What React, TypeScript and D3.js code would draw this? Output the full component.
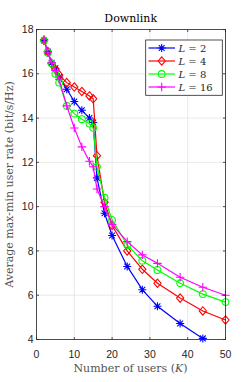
import React from "react";
import * as d3 from "d3";

const K = [2, 3, 4, 5, 6, 8, 10, 12, 14, 15, 16, 18, 20, 24, 28, 32, 38, 44, 50];
const L2 = [17.5, 17.0, 16.5, 16.25, 15.85, 15.3, 14.75, 14.35, 14.0, 13.8, 11.3, 9.7, 8.7, 7.3, 6.25, 5.5, 4.72, 4.05, null];
const L4 = [17.5, 17.0, 16.45, 16.2, 15.95, 15.6, 15.4, 15.2, 15.0, 14.87, 12.3, 10.2, 9.15, 8.0, 7.17, 6.54, 5.87, 5.29, 4.88];
const L8 = [17.5, 16.95, 16.45, 16.0, 15.6, 14.55, 14.2, 13.95, 13.75, 13.55, 11.8, 10.4, 9.4, 8.27, 7.56, 7.14, 6.54, 6.05, 5.69];
const L16 = [17.55, 16.95, 16.5, 16.15, 15.75, 14.55, 13.55, 12.7, 12.05, 11.8, 10.8, 10.0, 9.2, 8.42, 7.82, 7.44, 6.81, 6.36, 6.0];
const xTicks = [0, 10, 20, 30, 40, 50];
const yTicks = [4, 6, 8, 10, 12, 14, 16, 18];
const seriesNames = ["L = 2", "L = 4", "L = 8", "L = 16"];
const seriesNums = ["2", "4", "8", "16"];

const colors = ["#0000ff", "#ff0000", "#00ff00", "#ff00ff"];
const markers = ["star", "diamond", "circle", "plus"];

function markerPath(type: string, x: number, y: number): string {
  const s = 4;
  if (type === "star") {
    const a = s * 0.72;
    return `M${x - s},${y}L${x + s},${y}M${x},${y - s}L${x},${y + s}M${x - a},${y - a}L${x + a},${y + a}M${x - a},${y + a}L${x + a},${y - a}`;
  }
  if (type === "diamond") {
    return `M${x},${y - 4.2}L${x + 3.6},${y}L${x},${y + 4.2}L${x - 3.6},${y}Z`;
  }
  if (type === "plus") {
    return `M${x - 4.2},${y}L${x + 4.2},${y}M${x},${y - 4.2}L${x},${y + 4.2}`;
  }
  const r = 3.4;
  return `M${x - r},${y}A${r},${r} 0 1,0 ${x + r},${y}A${r},${r} 0 1,0 ${x - r},${y}Z`;
}

export default function App() {
  const W = 249, H = 382;
  const left = 36.5, right = 225.5, top = 29.5, bottom = 339.5;
  const x = d3.scaleLinear().domain([0, 50]).range([left, right]);
  const y = d3.scaleLinear().domain([4, 18]).range([bottom, top]);
  const data = [L2, L4, L8, L16];
  const line = d3
    .line<[number, number | null]>()
    .defined((d) => d[1] != null)
    .x((d) => x(d[0]))
    .y((d) => y(d[1] as number));
  const axisColor = "#262626";
  const serif = "'DejaVu Serif', serif";
  const sans = "'Liberation Sans', Arial, sans-serif";
  const lgX = 145.7, lgY = 40, lgW = 76.6, lgH = 55.3;
  const lgRows = [48, 61, 74, 87];

  return (
    <svg width={W} height={H} style={{ position: "absolute", left: 0, top: 0, background: "#fff" }}>
      <rect x={0} y={0} width={W} height={H} fill="#fff" />
      {/* grid */}
      {xTicks.map((t) => (
        <line key={"gx" + t} x1={x(t)} x2={x(t)} y1={top} y2={bottom} stroke="#e3e3e3" strokeWidth={0.8} />
      ))}
      {yTicks.map((t) => (
        <line key={"gy" + t} x1={left} x2={right} y1={y(t)} y2={y(t)} stroke="#e3e3e3" strokeWidth={0.8} />
      ))}
      {/* series */}
      {data.map((vals, i) => {
        const pts: [number, number | null][] = K.map((k, j) => [k, vals[j]]);
        return (
          <g key={"s" + i}>
            <path d={line(pts) || ""} fill="none" stroke={colors[i]} strokeWidth={1.2} />
            {pts
              .filter((p) => p[1] != null)
              .map((p, j) => (
                <path
                  key={j}
                  d={markerPath(markers[i], x(p[0]), y(p[1] as number))}
                  fill="none"
                  stroke={colors[i]}
                  strokeWidth={1.1}
                />
              ))}
          </g>
        );
      })}
      {/* frame */}
      <rect x={left} y={top} width={right - left} height={bottom - top} fill="none" stroke={axisColor} strokeWidth={0.8} />
      {xTicks.map((t) => (
        <g key={"tx" + t}>
          <line x1={x(t)} x2={x(t)} y1={bottom} y2={bottom - 2.5} stroke={axisColor} strokeWidth={0.8} />
          <line x1={x(t)} x2={x(t)} y1={top} y2={top + 2.5} stroke={axisColor} strokeWidth={0.8} />
          <text x={x(t)} y={357.5} textAnchor="middle" fontFamily={sans} fontSize={10.5} fill={axisColor}>
            {t}
          </text>
        </g>
      ))}
      {yTicks.map((t) => (
        <g key={"ty" + t}>
          <line x1={left} x2={left + 2.5} y1={y(t)} y2={y(t)} stroke={axisColor} strokeWidth={0.8} />
          <line x1={right} x2={right - 2.5} y1={y(t)} y2={y(t)} stroke={axisColor} strokeWidth={0.8} />
          <text x={33.5} y={y(t) + 3.7} textAnchor="end" fontFamily={sans} fontSize={10.5} fill={axisColor}>
            {t}
          </text>
        </g>
      ))}
      {/* title */}
      <text x={130.7} y={21.5} textAnchor="middle" fontFamily={serif} fontSize={11} fill="#000">
        Downlink
      </text>
      {/* x label */}
      <text x={130.5} y={371.5} textAnchor="middle" fontFamily={serif} fontSize={11} fill="#555">
        Number of users (<tspan fontStyle="italic">K</tspan>)
      </text>
      {/* y label */}
      <text
        transform={`translate(12.5,${(top + bottom) / 2}) rotate(-90)`}
        textAnchor="middle"
        fontFamily={serif}
        fontSize={11}
        fill="#555"
      >
        Average max-min user rate (bit/s/Hz)
      </text>
      {/* legend */}
      <rect x={lgX} y={lgY} width={lgW} height={lgH} fill="#fff" stroke={axisColor} strokeWidth={0.8} />
      {seriesNames.map((nm, i) => (
        <g key={"lg" + i}>
          <line x1={148.5} x2={175} y1={lgRows[i]} y2={lgRows[i]} stroke={colors[i]} strokeWidth={1.2} />
          <path d={markerPath(markers[i], 161.7, lgRows[i])} fill="none" stroke={colors[i]} strokeWidth={1.1} />
          <text x={178.5} y={lgRows[i] + 3.5} fontFamily={serif} fontSize={10} fill={axisColor}>
            <tspan fontStyle="italic">L</tspan>
            {" = " + seriesNums[i]}
          </text>
        </g>
      ))}
    </svg>
  );
}
